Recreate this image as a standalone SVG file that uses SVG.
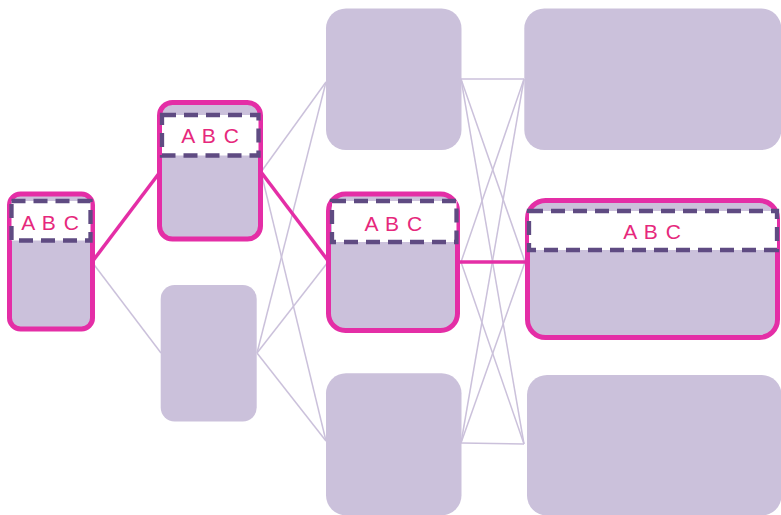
<svg xmlns="http://www.w3.org/2000/svg" width="781" height="515" viewBox="0 0 781 515">
<style>
.plain{fill:#cbc1db}
.hl{fill:#cbc1db;stroke:#e42ea6;stroke-width:5}
.hdr{fill:#ffffff;stroke:#5f4b82;stroke-width:4.3;stroke-dasharray:14 8}
.lbl{font-family:"Liberation Sans",Arial,sans-serif;font-size:21px;letter-spacing:1px;fill:#e6287c;text-anchor:middle}
.lt{stroke:#cbc1db;stroke-width:1.5;fill:none}
.pk{stroke:#e42ea6;stroke-width:3.5;fill:none}
</style>
<g id="connectors">
<line class="lt" x1="92" y1="262" x2="161" y2="353"/>
<line class="lt" x1="261" y1="172" x2="326" y2="82"/>
<line class="lt" x1="261" y1="172" x2="326" y2="441"/>
<line class="lt" x1="257" y1="353" x2="326" y2="82"/>
<line class="lt" x1="257" y1="353" x2="328" y2="262"/>
<line class="lt" x1="257" y1="353" x2="326" y2="441"/>
<line class="lt" x1="461" y1="79" x2="524" y2="79"/>
<line class="lt" x1="461" y1="79" x2="525" y2="262"/>
<line class="lt" x1="461" y1="79" x2="524" y2="444"/>
<line class="lt" x1="461" y1="262" x2="524" y2="79"/>
<line class="lt" x1="461" y1="262" x2="524" y2="444"/>
<line class="lt" x1="461" y1="443" x2="524" y2="79"/>
<line class="lt" x1="461" y1="443" x2="525" y2="262"/>
<line class="lt" x1="461" y1="443" x2="524" y2="444"/>
<line class="pk" x1="92" y1="262" x2="160" y2="172"/>
<line class="pk" x1="261" y1="172" x2="329" y2="262"/>
<line class="pk" x1="458" y1="262" x2="527" y2="262"/>
</g>
<g id="n1">
<rect class="hl" x="9.5" y="194" width="83" height="135" rx="11"/>
<rect class="hdr" x="11.5" y="201" width="79" height="39.5"/>
<text class="lbl" x="50.5" y="229.5">A B C</text>
</g>
<g id="n2">
<rect class="hl" x="159.5" y="102.5" width="101" height="136.5" rx="13"/>
<rect class="hdr" x="162" y="115" width="96.5" height="40.5"/>
<text class="lbl" x="210.5" y="142.7">A B C</text>
</g>
<g id="n3">
<rect class="plain" x="160.7" y="285" width="96" height="136.5" rx="14"/>
</g>
<g id="n4">
<rect class="plain" x="326" y="8.5" width="135.5" height="141.5" rx="20"/>
</g>
<g id="n5">
<rect class="hl" x="328.5" y="194" width="129" height="136.5" rx="17"/>
<rect class="hdr" x="332" y="201" width="124.5" height="41"/>
<text class="lbl" x="393.8" y="230.5">A B C</text>
</g>
<g id="n6">
<rect class="plain" x="326" y="373.3" width="135.5" height="142" rx="20"/>
</g>
<g id="n7">
<rect class="plain" x="524.3" y="8.5" width="257" height="141.5" rx="20"/>
</g>
<g id="n8">
<rect class="hl" x="527.5" y="200.5" width="250" height="137" rx="18"/>
<rect class="hdr" x="529" y="211" width="248" height="39"/>
<text class="lbl" x="652.5" y="239.3">A B C</text>
</g>
<g id="n9">
<rect class="plain" x="527" y="375" width="254.5" height="140.5" rx="20"/>
</g>
</svg>
